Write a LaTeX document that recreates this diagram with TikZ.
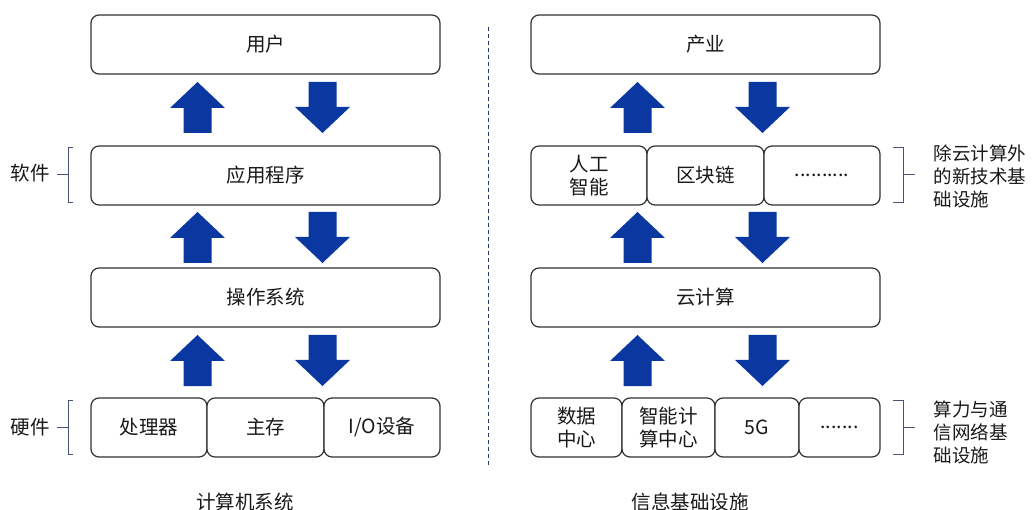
\documentclass[tikz,border=0pt]{standalone}
\usepackage{fontspec}
\setmainfont{Noto Sans CJK SC}
\definecolor{arrowblue}{RGB}{10,56,160}
\definecolor{bracegray}{RGB}{70,84,120}
\definecolor{linenavy}{RGB}{40,55,110}
\definecolor{boxline}{RGB}{50,50,50}

\tikzset{
  layerbox/.style={draw=boxline, line width=1.2pt, rounded corners=8pt, fill=white,
    minimum height=59pt, inner sep=0pt, align=center, text=black!90,
    font=\fontsize{19.5}{23}\selectfont},
  sidetext/.style={align=left, anchor=west, text=black!90,
    font=\fontsize{18.5}{23}\selectfont},
  captext/.style={text=black!90, font=\fontsize{19.5}{22}\selectfont},
  bracket/.style={draw=bracegray, line width=0.9pt},
}
% block arrows: #1 = x of centre, #2 = y of tip
\newcommand{\blockup}[2]{%
  \fill[arrowblue] (#1,#2) -- (#1+27.5,#2+26) -- (#1+14,#2+26) -- (#1+14,#2+51)
    -- (#1-14,#2+51) -- (#1-14,#2+26) -- (#1-27.5,#2+26) -- cycle;}
\newcommand{\blockdown}[2]{%
  \fill[arrowblue] (#1,#2) -- (#1+27.5,#2-26) -- (#1+14,#2-26) -- (#1+14,#2-51)
    -- (#1-14,#2-51) -- (#1-14,#2-26) -- (#1-27.5,#2-26) -- cycle;}

\begin{document}
\begin{tikzpicture}[x=1pt,y=-1pt]
  \useasboundingbox (0,0) rectangle (1033,510);
  %Computer system
  \node[layerbox, minimum width=349pt] (user) at (265.5,44.5) {用户};
  \node[layerbox, minimum width=349pt] (app) at (265.5,175.5) {应用程序};
  \node[layerbox, minimum width=349pt] (os) at (265.5,297.5) {操作系统};
  \node[layerbox, minimum width=116pt] (cpu) at (149,427.5) {处理器};
  \node[layerbox, minimum width=117pt] (mem) at (265.5,427.5) {主存};
  \node[layerbox, minimum width=116pt] (io) at (382,427.5) {I/O设备};
  \node[captext] (pccap) at (245,502) {计算机系统};
  %Arrows left
  \blockup{197.5}{82}   \blockdown{322.5}{133}
  \blockup{197.5}{212}  \blockdown{322.5}{263}
  \blockup{197.5}{335}  \blockdown{322.5}{386}
  %Side labels left
  \node[captext] (soft) at (30,173) {软件};
  \node[captext] (hard) at (30,427) {硬件};
  \coordinate (soft-tick) at (57,174);
  \coordinate (hard-tick) at (57,427);
  \draw[bracket] (73,147) -- (68,147) -- (68,202) -- (73,202);
  \draw[bracket] (soft-tick) -- (68,174);
  \draw[bracket] (73,400) -- (68,400) -- (68,454) -- (73,454);
  \draw[bracket] (hard-tick) -- (68,427);
  %Divider
  \draw[linenavy, line width=0.9pt, dash pattern=on 4pt off 3pt] (488,27) -- (488,465);
  %Information infrastructure
  \node[layerbox, minimum width=349pt] (ind) at (705.5,44.5) {产业};
  \node[layerbox, minimum width=116pt] (ai) at (589,175.5) {人工\\智能};
  \node[layerbox, minimum width=117pt] (chain) at (705.5,175.5) {区块链};
  \node[layerbox, minimum width=116pt] (moreA) at (822,175.5) {..........};
  \node[layerbox, minimum width=349pt] (cloud) at (705.5,297.5) {云计算};
  \node[layerbox, minimum width=91pt] (dc) at (576.5,427.5) {数据\\中心};
  \node[layerbox, minimum width=93pt] (aidc) at (668.5,427.5) {智能计\\算中心};
  \node[layerbox, minimum width=84pt] (fiveg) at (757,427.5) {5G};
  \node[layerbox, minimum width=81pt] (moreB) at (839.5,427.5) {.......};
  \node[captext] (infocap) at (690,502) {信息基础设施};
  %Arrows right
  \blockup{637.5}{82}   \blockdown{762.5}{133}
  \blockup{637.5}{212}  \blockdown{762.5}{263}
  \blockup{637.5}{335}  \blockdown{762.5}{386}
  %Side labels right
  \node[sidetext] (newinfra) at (930,176) {除云计算外\\的新技术基\\础设施};
  \node[sidetext] (netinfra) at (930,432) {算力与通\\信网络基\\础设施};
  \coordinate (new-tick) at (915,174);
  \coordinate (net-tick) at (915,427);
  \draw[bracket] (893,147) -- (903,147) -- (903,202) -- (893,202);
  \draw[bracket] (903,174) -- (new-tick);
  \draw[bracket] (893,400) -- (903,400) -- (903,454) -- (893,454);
  \draw[bracket] (903,427) -- (net-tick);
\end{tikzpicture}
\end{document}
